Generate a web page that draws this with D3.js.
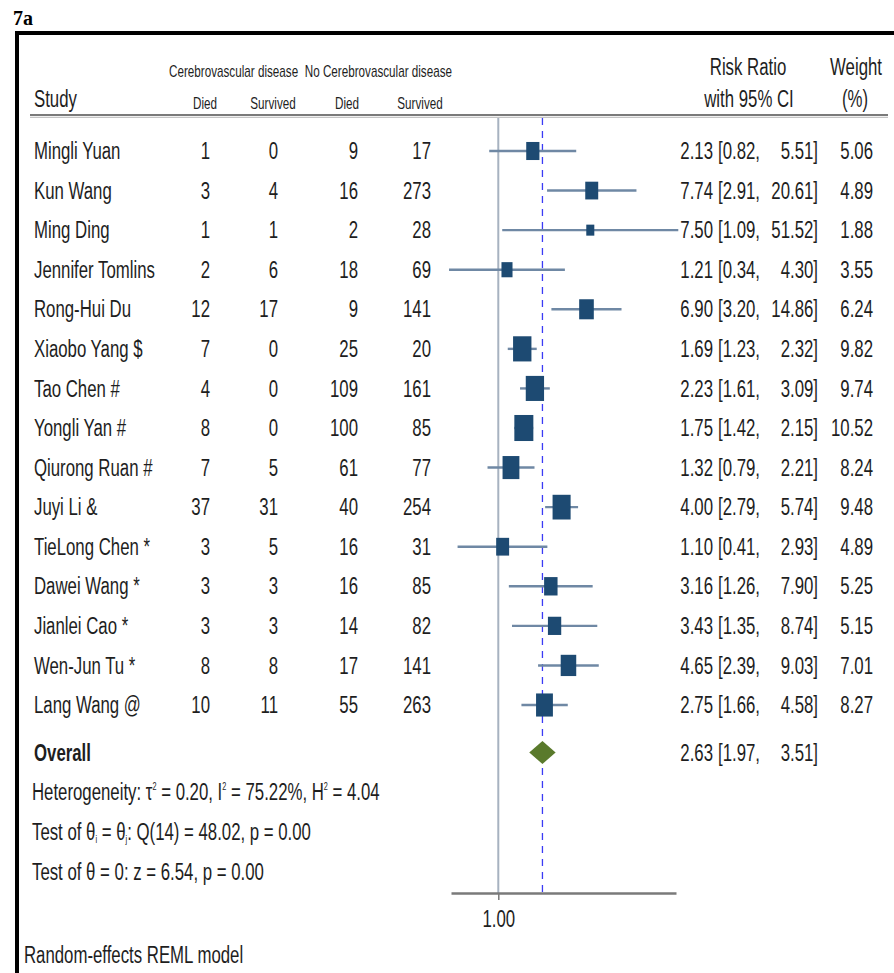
<!DOCTYPE html>
<html>
<head>
<meta charset="utf-8">
<script src="https://cdn.jsdelivr.net/npm/d3@7"></script>
<style>
  html, body { margin: 0; padding: 0; background: #fff; }
  svg { display: block; }
  text { font-family: "Liberation Sans", Arial, sans-serif; fill: #1e1e1e; }
</style>
</head>
<body>
<script>
// ---------------- data ----------------
const studies = ["Mingli Yuan","Kun Wang","Ming Ding","Jennifer Tomlins","Rong-Hui Du","Xiaobo Yang $","Tao Chen #","Yongli Yan #","Qiurong Ruan #","Juyi Li &","TieLong Chen *","Dawei Wang *","Jianlei Cao *","Wen-Jun Tu *","Lang Wang @"];
const cvdDied      = [1,3,1,2,12,7,4,8,7,37,3,3,3,8,10];
const cvdSurvived  = [0,4,1,6,17,0,0,0,5,31,5,3,3,8,11];
const noCvdDied    = [9,16,2,18,9,25,109,100,61,40,16,16,14,17,55];
const noCvdSurvived= [17,273,28,69,141,20,161,85,77,254,31,85,82,141,263];
const riskRatio = [2.13,7.74,7.50,1.21,6.90,1.69,2.23,1.75,1.32,4.00,1.10,3.16,3.43,4.65,2.75];
const ciLower   = [0.82,2.91,1.09,0.34,3.20,1.23,1.61,1.42,0.79,2.79,0.41,1.26,1.35,2.39,1.66];
const ciUpper   = [5.51,20.61,51.52,4.30,14.86,2.32,3.09,2.15,2.21,5.74,2.93,7.90,8.74,9.03,4.58];
const weights   = [5.06,4.89,1.88,3.55,6.24,9.82,9.74,10.52,8.24,9.48,4.89,5.25,5.15,7.01,8.27];
const overallRR = 2.63, overallLo = 1.97, overallHi = 3.51;
const axisTicks = [1];
const axisDomain = [0.355, 49];

// ---------------- layout ----------------
const W = 894, H = 973;
const SX = 0.73;          // horizontal condensation of the text
const FS = 23;            // main font size
const svg = d3.select("body").append("svg").attr("width", W).attr("height", H);

const x = d3.scaleLog().domain(axisDomain).range([451, 676]);
const y = d3.scaleLinear().domain([0, studies.length - 1]).range([151, 705]);
const yOverall = 752.5, yHet = 792, yTest1 = 832, yTest2 = 872;
const axisY = 893, plotTop = 118;
const boxK = 5.86, boxAspect = 1.37;

function txt(px, py, str, opt = {}) {
  const g = svg.append("g").attr("transform", `translate(${px},${py}) scale(${opt.sx ?? SX},1)`);
  const t = g.append("text")
    .attr("text-anchor", opt.anchor || "start")
    .style("font-size", (opt.size || FS) + "px")
    .style("font-weight", opt.weight || "normal");
  if (str !== null) t.text(str);
  if (opt.family) t.style("font-family", opt.family);
  return t;
}

// frame
svg.append("path").attr("d", `M17,${H} L17,33 L${W},33`)
  .attr("fill", "none").attr("stroke", "#000").attr("stroke-width", 4);
txt(13, 25, "7a", { sx: 1, size: 20, weight: "bold", family: "'Liberation Serif', 'Times New Roman', serif" }).style("fill", "#000");

// headers
txt(169, 77, "Cerebrovascular disease", { size: 16 });
txt(452, 77, "No Cerebrovascular disease", { size: 16, anchor: "end" });
txt(34, 107, "Study");
const hdrCols = [["Died", 205], ["Survived", 273], ["Died", 347], ["Survived", 420]];
hdrCols.forEach(([s, cx]) => txt(cx, 109, s, { size: 16, anchor: "middle" }));
txt(748, 75, "Risk Ratio", { anchor: "middle" });
txt(749, 107, "with 95% CI", { anchor: "middle" });
txt(856, 75, "Weight", { anchor: "middle" });
txt(855, 107, "(%)", { anchor: "middle" });

// header separator
svg.append("line").attr("x1", 30).attr("x2", 888).attr("y1", 115).attr("y2", 115)
  .attr("stroke", "#7a7a7a").attr("stroke-width", 2.2);
svg.append("line").attr("x1", 30).attr("x2", 888).attr("y1", 117.3).attr("y2", 117.3)
  .attr("stroke", "#c4c4c4").attr("stroke-width", 1.2);

// null line and overall dashed line
svg.append("line").attr("x1", x(1)).attr("x2", x(1)).attr("y1", plotTop).attr("y2", axisY)
  .attr("stroke", "#a7b2c0").attr("stroke-width", 2);
svg.append("line").attr("x1", x(overallRR)).attr("x2", x(overallRR)).attr("y1", plotTop).attr("y2", axisY)
  .attr("stroke", "#3b3bf5").attr("stroke-width", 1.3).attr("stroke-dasharray", "7,6");

// axis
const axisG = svg.append("g").attr("transform", `translate(0,${axisY})`)
  .call(d3.axisBottom(x).tickValues(axisTicks).tickFormat(d3.format(".2f")).tickSize(7).tickSizeOuter(0));
axisG.select(".domain").attr("stroke", "#7a7a7a").attr("stroke-width", 2.5);
axisG.selectAll(".tick line").attr("stroke", "#7a7a7a").attr("stroke-width", 1.5);
axisG.selectAll(".tick text")
  .attr("y", 34).attr("dy", 0).attr("transform", `scale(${SX},1)`)
  .style("font-size", FS + "px").style("font-family", "'Liberation Sans', Arial, sans-serif").attr("fill", "#1e1e1e");

// study rows
const rows = studies.map((s, i) => ({ s, i }));
const fmt = d3.format(".2f");
rows.forEach(({ s, i }) => {
  const cy = y(i), by = cy + 8.2;
  txt(34, by, s);
  txt(210, by, cvdDied[i], { anchor: "end" });
  txt(278, by, cvdSurvived[i], { anchor: "end" });
  txt(358, by, noCvdDied[i], { anchor: "end" });
  txt(431, by, noCvdSurvived[i], { anchor: "end" });
  txt(713, by, fmt(riskRatio[i]), { anchor: "end" });
  txt(718, by, "[" + fmt(ciLower[i]) + ",");
  txt(818, by, fmt(ciUpper[i]) + "]", { anchor: "end" });
  txt(873, by, fmt(weights[i]), { anchor: "end" });
});

// CI lines
svg.append("g").selectAll("line").data(rows).join("line")
  .attr("x1", d => x(ciLower[d.i])).attr("x2", d => x(ciUpper[d.i]))
  .attr("y1", d => y(d.i)).attr("y2", d => y(d.i))
  .attr("stroke", "#6f88a4").attr("stroke-width", 2.4);

// weight boxes
svg.append("g").selectAll("rect").data(rows).join("rect")
  .attr("x", d => x(riskRatio[d.i]) - boxK * Math.sqrt(weights[d.i]) / 2)
  .attr("y", d => y(d.i) - boxK * boxAspect * Math.sqrt(weights[d.i]) / 2)
  .attr("width", d => boxK * Math.sqrt(weights[d.i]))
  .attr("height", d => boxK * boxAspect * Math.sqrt(weights[d.i]))
  .attr("fill", "#1d4a72");

// overall
txt(34, yOverall + 8.2, "Overall", { weight: "bold" });
const dh = 11.5;
svg.append("path")
  .attr("d", `M${x(overallLo)},${yOverall} L${x(overallRR)},${yOverall - dh} L${x(overallHi)},${yOverall} L${x(overallRR)},${yOverall + dh} Z`)
  .attr("fill", "#5a7a2c");
txt(713, yOverall + 8.2, fmt(overallRR), { anchor: "end" });
txt(718, yOverall + 8.2, "[" + fmt(overallLo) + ",");
txt(818, yOverall + 8.2, fmt(overallHi) + "]", { anchor: "end" });

// statistics with super/subscripts
function richText(t, parts) {
  let cur = 0;
  parts.forEach(p => {
    const target = p.sup ? -10 : p.sub ? 3 : 0;
    const ts = t.append("tspan").attr("dy", target - cur).text(p.sup || p.sub || p.t);
    if (p.sup || p.sub) ts.style("font-size", "10px");
    cur = target;
  });
}
richText(txt(32, yHet + 8.2, null), [
  { t: "Heterogeneity: τ" }, { sup: "2" }, { t: " = 0.20, I" }, { sup: "2" }, { t: " = 75.22%, H" }, { sup: "2" }, { t: " = 4.04" }
]);
richText(txt(32, yTest1 + 8.2, null), [
  { t: "Test of θ" }, { sub: "i" }, { t: " = θ" }, { sub: "j" }, { t: ": Q(14) = 48.02, p = 0.00" }
]);
txt(32, yTest2 + 8.2, "Test of θ = 0: z = 6.54, p = 0.00");

txt(24, 963, "Random-effects REML model");
</script>
</body>
</html>
